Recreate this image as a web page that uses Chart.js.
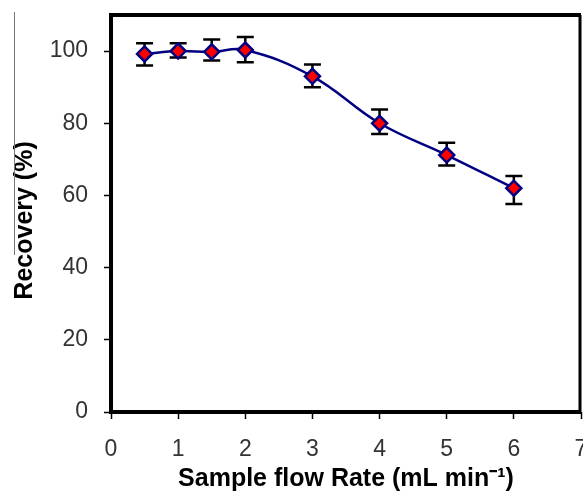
<!DOCTYPE html>
<html>
<head>
<meta charset="utf-8">
<script src="https://cdn.jsdelivr.net/npm/chart.js@4.4.1/dist/chart.umd.min.js"></script>
<style>
  html, body { margin: 0; padding: 0; background: #fff; overflow: hidden; }
  #wrap { position: relative; width: 583px; height: 496px; }
  #recovery-chart { display: block; }
</style>
</head>
<body>
<div id="wrap"><canvas id="recovery-chart"></canvas></div>
<script>
const flowRates = [0.5, 1, 1.5, 2, 3, 4, 5, 6];
const recovery = [99.2, 100, 99.8, 100.3, 93, 80, 71.2, 62];
const errUp = [3, 2.2, 3.4, 3.6, 3.3, 3.8, 3.4, 3.4];
const errDown = [3.2, 1.8, 2.4, 3.4, 3, 3, 2.9, 4.4];
const xTicks = [0, 1, 2, 3, 4, 5, 6, 7];
const yTicks = [0, 20, 40, 60, 80, 100];

(() => {
  const canvas = document.getElementById('recovery-chart');
  if (!canvas || !window.Chart) {
    return;
  }

  const tickFont = { family: "'Liberation Sans', Arial, sans-serif", size: 23 };
  const titleFont = { family: "'Liberation Sans', Arial, sans-serif", size: 25, weight: 'bold' };

  const noPadding = (scale) => {
    scale.paddingLeft = 0;
    scale.paddingRight = 0;
    scale.paddingTop = 0;
    scale.paddingBottom = 0;
  };

  // error bars go under the markers
  const errorBars = {
    id: 'errorBars',
    beforeDatasetsDraw(chart) {
      const { ctx, scales: { x, y } } = chart;
      ctx.save();
      ctx.strokeStyle = '#000';
      ctx.lineWidth = 2.5;
      flowRates.forEach((f, i) => {
        const px = x.getPixelForValue(f);
        const top = y.getPixelForValue(recovery[i] + errUp[i]);
        const bot = y.getPixelForValue(recovery[i] - errDown[i]);
        ctx.beginPath();
        ctx.moveTo(px, top);
        ctx.lineTo(px, bot);
        ctx.moveTo(px - 8.5, top);
        ctx.lineTo(px + 8.5, top);
        ctx.moveTo(px - 8.5, bot);
        ctx.lineTo(px + 8.5, bot);
        ctx.stroke();
      });
      ctx.restore();
    },
  };

  const frame = {
    id: 'frame',
    afterDraw(chart) {
      const { ctx, chartArea: a } = chart;
      ctx.save();
      ctx.strokeStyle = '#000';
      ctx.lineWidth = 4;
      ctx.beginPath();
      ctx.moveTo(a.right, a.top);
      ctx.lineTo(a.left, a.top);
      ctx.lineTo(a.left, a.bottom);
      ctx.lineTo(a.right, a.bottom);
      ctx.stroke();
      ctx.lineWidth = 3;
      ctx.beginPath();
      ctx.moveTo(a.right - 1, a.top);
      ctx.lineTo(a.right - 1, a.bottom);
      ctx.stroke();
      // stray rule at the left edge of the scan
      ctx.strokeStyle = '#777';
      ctx.lineWidth = 1;
      ctx.beginPath();
      ctx.moveTo(14.5, 12);
      ctx.lineTo(14.5, 255);
      ctx.stroke();
      ctx.restore();
    },
  };

  new Chart(canvas, {
    type: 'line',
    data: {
      datasets: [
        {
          data: flowRates.map((f, i) => ({ x: f, y: recovery[i] })),
          borderColor: '#000080',
          borderWidth: 2.5,
          tension: 0.4,
          fill: false,
          pointStyle: 'rectRot',
          pointRadius: 7.5,
          pointBackgroundColor: '#ff0000',
          pointBorderColor: '#000080',
          pointBorderWidth: 2.5,
        },
      ],
    },
    options: {
      responsive: true,
      maintainAspectRatio: false,
      animation: false,
      layout: { autoPadding: false, padding: { top: 15, right: 2, left: 0, bottom: 0 } },
      scales: {
        x: {
          type: 'linear',
          min: 0,
          max: 7,
          afterBuildTicks(scale) {
            scale.ticks = xTicks.map((v) => ({ value: v }));
          },
          afterFit(scale) {
            scale.height = 84;
            noPadding(scale);
          },
          grid: { drawOnChartArea: false, tickLength: 7, tickColor: '#000', tickWidth: 1.5 },
          border: { display: false },
          ticks: { font: tickFont, color: '#333', padding: 17, maxRotation: 0 },
          title: {
            display: true,
            text: 'Sample flow Rate (mL min\u207B\u00B9)',
            font: titleFont,
            color: '#000',
            padding: { top: 0, bottom: 2 },
          },
        },
        y: {
          min: 0,
          max: 110,
          afterBuildTicks(scale) {
            scale.ticks = yTicks.map((v) => ({ value: v }));
          },
          afterFit(scale) {
            scale.width = 111;
            noPadding(scale);
          },
          grid: { drawOnChartArea: false, tickLength: 7, tickColor: '#000', tickWidth: 1.5 },
          border: { display: false },
          ticks: { font: tickFont, color: '#333', padding: 16 },
          title: {
            display: true,
            // trailing spaces nudge the rotated title down a little
            text: 'Recovery (%)  ',
            font: titleFont,
            color: '#000',
            padding: { top: 10, bottom: 0 },
          },
        },
      },
      plugins: {
        legend: { display: false },
        tooltip: { enabled: false },
      },
    },
    plugins: [errorBars, frame],
  });
})();
</script>
</body>
</html>
